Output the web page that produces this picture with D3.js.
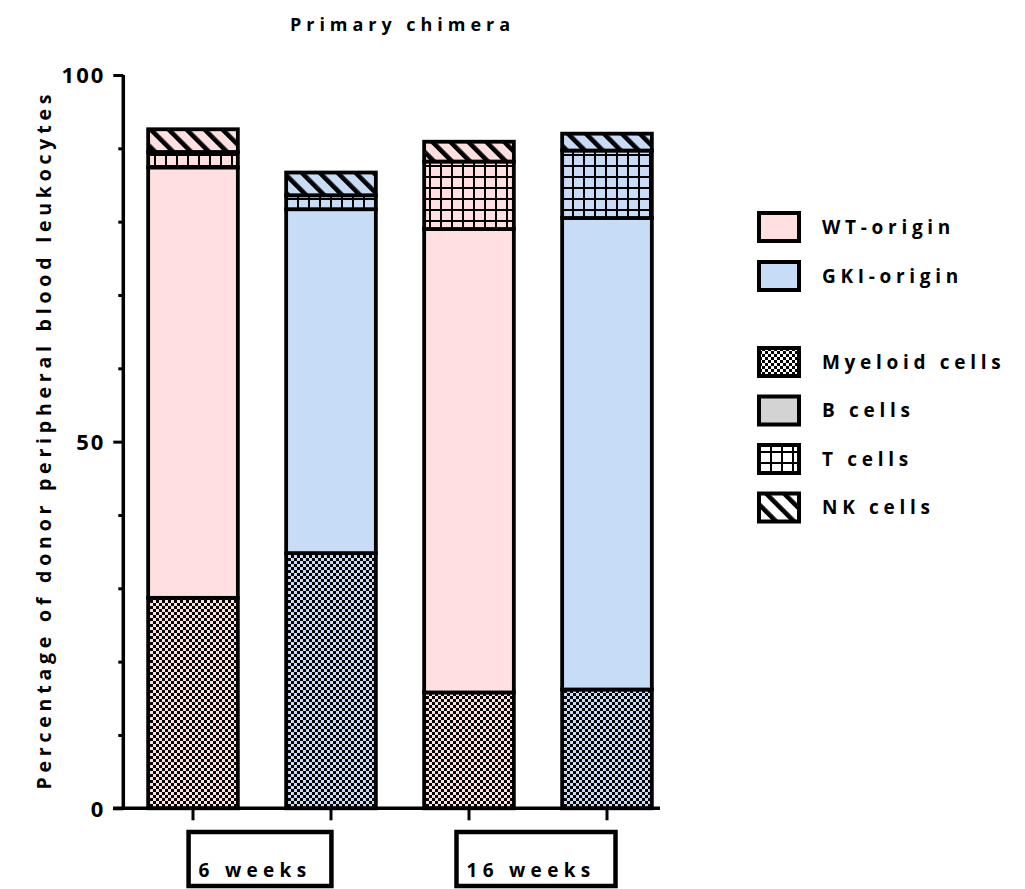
<!DOCTYPE html>
<html>
<head>
<meta charset="utf-8">
<script src="https://cdn.jsdelivr.net/npm/d3@7"></script>
<style>
  body { margin: 0; background: #fff; }
  text { font-family: "Open Sans", Lato, sans-serif; font-weight: 700; fill: #000; }
</style>
</head>
<body>
<svg id="chart" width="1025" height="889"></svg>
<script>
// ---- data ----
const bars = ["WT 6 weeks", "GKI 6 weeks", "WT 16 weeks", "GKI 16 weeks"];
const barOrigin = ["WT-origin", "GKI-origin", "WT-origin", "GKI-origin"];
const barTimepoint = ["6 weeks", "6 weeks", "16 weeks", "16 weeks"];
const timepoints = ["6 weeks", "16 weeks"];
const cellTypes = ["Myeloid cells", "B cells", "T cells", "NK cells"];
const myeloid = [28.7, 34.8, 15.8, 16.2];
const bCells  = [58.7, 46.9, 63.2, 64.3];
const tCells  = [2.1, 1.9, 9.2, 9.2];
const nkCells = [3.1, 3.1, 2.7, 2.3];
const yTicks = [0, 10, 20, 30, 40, 50, 60, 70, 80, 90, 100];
const yTickLabels = [0, 50, 100];
const originLegend = ["WT-origin", "GKI-origin"];

// ---- styles ----
const FONT = "'Open Sans', Lato, sans-serif";
const originColor = { "WT-origin": "#ffdfe0", "GKI-origin": "#c7dcf6" };
const cellPattern = { "Myeloid cells": "checker", "B cells": "solid", "T cells": "grid", "NK cells": "stripe" };

const svg = d3.select("#chart");
const defs = svg.append("defs");

function makePattern(id, bg, kind) {
  if (kind === "checker") {
    const p = defs.append("pattern").attr("id", id).attr("patternUnits", "userSpaceOnUse")
      .attr("width", 6).attr("height", 6);
    p.append("rect").attr("width", 6).attr("height", 6).attr("fill", bg);
    p.append("rect").attr("width", 3).attr("height", 3).attr("fill", "#000");
    p.append("rect").attr("x", 3).attr("y", 3).attr("width", 3).attr("height", 3).attr("fill", "#000");
  } else if (kind === "grid") {
    const p = defs.append("pattern").attr("id", id).attr("patternUnits", "userSpaceOnUse")
      .attr("width", 11).attr("height", 11);
    p.append("rect").attr("width", 11).attr("height", 11).attr("fill", bg);
    p.append("rect").attr("width", 11).attr("height", 2).attr("fill", "#000");
    p.append("rect").attr("width", 2).attr("height", 11).attr("fill", "#000");
  } else if (kind === "stripe") {
    const s = 12.7;
    const p = defs.append("pattern").attr("id", id).attr("patternUnits", "userSpaceOnUse")
      .attr("width", s).attr("height", s).attr("patternTransform", "rotate(-45)");
    p.append("rect").attr("width", s).attr("height", s).attr("fill", bg);
    p.append("rect").attr("width", 4.6).attr("height", s).attr("fill", "#000");
  }
}
const bgKeys = { "WT-origin": originColor["WT-origin"], "GKI-origin": originColor["GKI-origin"], "plain": "#ffffff" };
Object.entries(bgKeys).forEach(([k, c], i) => {
  ["checker", "grid", "stripe"].forEach(kind => makePattern(`pat-${i}-${kind}`, c, kind));
});
function fillFor(bgKey, cell) {
  const kind = cellPattern[cell];
  const i = Object.keys(bgKeys).indexOf(bgKey);
  if (kind === "solid") return bgKey === "plain" ? "#d3d3d3" : bgKeys[bgKey];
  return `url(#pat-${i}-${kind})`;
}

// ---- scales ----
const y = d3.scaleLinear().domain([0, 100]).range([808.3, 75]);
const x = d3.scaleBand().domain(bars).range([124, 676]).paddingInner(0.35).paddingOuter(0.175);

// ---- stacked bars ----
const rows = bars.map((b, i) => ({
  bar: b, origin: barOrigin[i],
  "Myeloid cells": myeloid[i], "B cells": bCells[i], "T cells": tCells[i], "NK cells": nkCells[i]
}));
const series = d3.stack().keys(cellTypes)(rows);

svg.append("g").selectAll("g").data(series).join("g")
  .selectAll("rect").data(s => s.map(d => ({ key: s.key, d })))
  .join("rect")
  .attr("x", o => x(o.d.data.bar))
  .attr("width", x.bandwidth())
  .attr("y", o => y(o.d[1]))
  .attr("height", o => y(o.d[0]) - y(o.d[1]))
  .attr("fill", o => fillFor(o.d.data.origin, o.key))
  .attr("stroke", "#000")
  .attr("stroke-width", 3.8);

// ---- y axis ----
const yAxis = d3.axisLeft(y).tickValues(yTicks).tickSize(10).tickSizeOuter(0)
  .tickFormat(d => yTickLabels.includes(d) ? d : "");
const gy = svg.append("g").attr("transform", "translate(123.3,0)").call(yAxis);
gy.select(".domain").attr("stroke-width", 3.5).attr("d", `M0,${y(100)}V${y(0)}`);
gy.selectAll(".tick line").attr("stroke-width", 3)
  .attr("x2", d => yTickLabels.includes(d) ? -10 : -5);
gy.selectAll(".tick text")
  .attr("x", -18).attr("dy", "0.36em")
  .style("font-size", "22px").style("letter-spacing", "2px")
  .style("font-family", FONT).style("font-weight", 700);

// ---- x axis ----
const y0 = y(0);
svg.append("line").attr("x1", 113).attr("x2", x.range()[1] - 16)
  .attr("y1", y0).attr("y2", y0).attr("stroke", "#000").attr("stroke-width", 3.5);
svg.append("g").selectAll("line").data(bars).join("line")
  .attr("x1", d => x(d) + x.bandwidth() / 2).attr("x2", d => x(d) + x.bandwidth() / 2)
  .attr("y1", y0).attr("y2", y0 + 12).attr("stroke", "#000").attr("stroke-width", 3);

// ---- timepoint labels in boxes ----
timepoints.forEach(tp => {
  const centers = bars.filter((b, i) => barTimepoint[i] === tp).map(b => x(b) + x.bandwidth() / 2);
  const cx = d3.mean(centers) - 2;
  const g = svg.append("g");
  const t = g.append("text").attr("y", 870).attr("dy", "0.35em")
    .style("font-size", "19px").style("letter-spacing", "5.3px").text(tp);
  const w = t.node().getComputedTextLength();
  const boxW = w + 30;
  const left = cx - boxW / 2;
  t.attr("x", left + 10);
  g.insert("rect", "text").attr("x", left).attr("y", 832).attr("width", boxW).attr("height", 54)
    .attr("fill", "none").attr("stroke", "#000").attr("stroke-width", 4.5);
});

// ---- title and axis title ----
svg.append("text").attr("x", 400).attr("y", 25).attr("text-anchor", "middle").attr("dy", "0.35em")
  .attr("textLength", 220).attr("lengthAdjust", "spacing")
  .style("font-size", "18px").text("Primary chimera");

svg.append("text").attr("transform", "translate(44,442) rotate(-90)")
  .attr("text-anchor", "middle").attr("dy", "0.35em")
  .attr("textLength", 695).attr("lengthAdjust", "spacing")
  .style("font-size", "19.5px").text("Percentage of donor peripheral blood leukocytes");

// ---- legend ----
const legendItems = [
  ...originLegend.map((o, i) => ({ label: o, fill: originColor[o], cy: 227 + i * 49 })),
  ...cellTypes.map((c, i) => ({ label: c, fill: fillFor("plain", c), cy: 362 + i * 48.5 }))
];
const lg = svg.append("g").selectAll("g").data(legendItems).join("g");
lg.append("rect").attr("x", 759).attr("y", d => d.cy - 14).attr("width", 40).attr("height", 28)
  .attr("fill", d => d.fill).attr("stroke", "#000").attr("stroke-width", 4);
lg.append("text").attr("x", 822).attr("y", d => d.cy).attr("dy", "0.35em")
  .style("font-size", "19px").style("letter-spacing", "4.7px").text(d => d.label);
</script>
</body>
</html>
